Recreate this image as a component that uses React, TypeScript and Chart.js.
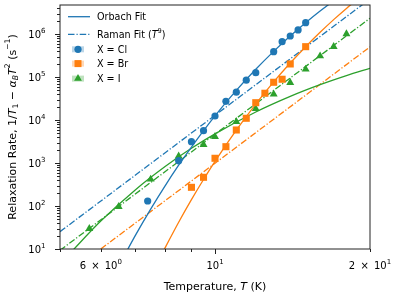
import React, { useEffect, useRef } from 'react';
import { Chart, registerables } from 'chart.js';

Chart.register(...registerables);

// ---- Data ----
const T_CL = [7.4, 8.5, 9, 9.5, 10, 10.5, 11, 11.5, 12, 13, 13.5, 14, 14.5, 15];
const R_CL = [131, 1140, 3150, 5690, 12500, 27500, 44900, 85300, 127600, 393000, 672000, 912000, 1260000, 1860000];

const T_BR = [9, 9.5, 10, 10.5, 11, 11.5, 12, 12.5, 13, 13.5, 14, 15];
const R_BR = [273, 467, 1295, 2410, 5900, 11060, 25500, 42300, 76200, 89600, 203400, 514000];

const T_I = [5.7, 6.5, 7.5, 8.5, 9.5, 10, 11, 12, 13, 14, 15, 16, 17, 18];
const R_I = [29.7, 96.6, 420, 1450, 2700, 4120, 9220, 18400, 40300, 74600, 153000, 312000, 514000, 1020000];

// Orbach fit curves
const ORB_CL_T = [6.6, 7, 7.5, 8, 8.5, 9, 10, 11, 12, 13, 14, 15, 16, 17, 18];
const ORB_CL_R = [5.6, 20.5, 85, 296, 893, 2370, 12600, 49200, 153000, 400000, 910000, 1860000, 3470000, 6000000, 9800000];
const ORB_BR_T = [7.8, 8.5, 9, 9.5, 10, 11, 12, 13, 14, 15, 16, 17, 18, 19];
const ORB_BR_R = [6.0, 42, 141, 415, 1100, 5880, 23700, 77600, 214000, 514000, 1110000, 2190000, 4000000, 6800000];
const ORB_I_T = [5.2, 6, 7, 8, 9, 10, 12, 14, 16, 18, 20];
const ORB_I_R = [7.4, 44.7, 238, 833, 2210, 4800, 15500, 35800, 67000, 109000, 161000];

// Raman fit lines (T^9, straight on log-log): endpoints
const RAM_CL_T = [5, 20];
const RAM_CL_R = [25.3, 6630000];
const RAM_BR_T = [6, 20];
const RAM_BR_R = [10, 508000];
const RAM_I_T = [5, 20];
const RAM_I_R = [9.3, 2360000];

// Axis ticks
const X_TICK_VALUES = [6, 10, 20];
const X_TICK_MANT = ['6 \u2009×\u2009 10', '10', '2 \u2009×\u2009 10'];
const X_TICK_EXP = ['0', '1', '1'];
const X_MAJOR = [10];
const X_MINOR = [5, 6, 7, 8, 9, 20];
const Y_TICK_VALUES = [10, 100, 1000, 10000, 100000, 1000000];
const Y_TICK_EXP = ['1', '2', '3', '4', '5', '6'];

const BLUE = '#1f77b4';
const ORANGE = '#ff7f0e';
const GREEN = '#2ca02c';
const FONT = '"DejaVu Sans", "Liberation Sans", sans-serif';
const FS = 9.6;
const FS_TICK = 10;
const FS_TITLE = 11;
const DASHDOT = [6.5, 2, 1.2, 2];

type Seg = { t: string; i?: boolean; s?: 'sup' | 'sub' };

function segFont(seg: Seg, size: number) {
  const sz = seg.s ? size * 0.7 : size;
  return `${seg.i ? 'italic ' : ''}${sz}px ${FONT}`;
}
function richWidth(ctx: CanvasRenderingContext2D, segs: Seg[], size: number) {
  let w = 0;
  for (const s of segs) {
    ctx.font = segFont(s, size);
    w += ctx.measureText(s.t).width;
  }
  return w;
}
function drawRich(
  ctx: CanvasRenderingContext2D,
  segs: Seg[],
  x: number,
  y: number,
  size: number,
  align: 'left' | 'center' | 'right'
) {
  const w = richWidth(ctx, segs, size);
  let cx = align === 'left' ? x : align === 'center' ? x - w / 2 : x - w;
  ctx.textAlign = 'left';
  ctx.textBaseline = 'alphabetic';
  const base = y + size * 0.36;
  for (const s of segs) {
    ctx.font = segFont(s, size);
    const dy = s.s === 'sup' ? -size * 0.5 : s.s === 'sub' ? size * 0.22 : 0;
    ctx.fillText(s.t, cx, base + dy);
    cx += ctx.measureText(s.t).width;
  }
}

function pts(xs: number[], ys: number[]) {
  return xs.map((x, i) => ({ x, y: ys[i] }));
}

const overlay = {
  id: 'overlay',
  afterDraw(chart: any) {
    const ctx: CanvasRenderingContext2D = chart.ctx;
    const xs = chart.scales.x;
    const ys = chart.scales.y;
    const a = chart.chartArea;
    ctx.save();
    ctx.fillStyle = '#000';
    ctx.strokeStyle = '#222';
    ctx.lineWidth = 1;
    ctx.setLineDash([]);
    // frame
    ctx.strokeRect(a.left, a.top, a.right - a.left, a.bottom - a.top);
    // x ticks
    ctx.beginPath();
    for (const v of X_MAJOR) {
      const px = Math.round(xs.getPixelForValue(v)) + 0.5;
      ctx.moveTo(px, a.bottom);
      ctx.lineTo(px, a.bottom + 5);
    }
    for (const v of X_MINOR) {
      const px = Math.round(xs.getPixelForValue(v)) + 0.5;
      ctx.moveTo(px, a.bottom);
      ctx.lineTo(px, a.bottom + 3);
    }
    // y ticks
    for (let e = 1; e <= 6; e++) {
      for (let m = 1; m <= 9; m++) {
        const v = m * Math.pow(10, e);
        if (v < ys.min || v > ys.max) continue;
        const py = Math.round(ys.getPixelForValue(v)) + 0.5;
        ctx.moveTo(a.left, py);
        ctx.lineTo(a.left - (m === 1 ? 5 : 3), py);
      }
    }
    ctx.stroke();
    // x tick labels
    X_TICK_VALUES.forEach((v, i) => {
      const px = xs.getPixelForValue(v);
      drawRich(ctx, [{ t: X_TICK_MANT[i] }, { t: X_TICK_EXP[i], s: 'sup' }], px, 265, FS_TICK, 'center');
    });
    // y tick labels
    Y_TICK_VALUES.forEach((v, i) => {
      const py = ys.getPixelForValue(v);
      drawRich(ctx, [{ t: '10' }, { t: Y_TICK_EXP[i], s: 'sup' }], 45.5, py, FS_TICK, 'right');
    });
    // x title
    drawRich(
      ctx,
      [{ t: 'Temperature, ' }, { t: 'T', i: true }, { t: ' (K)' }],
      (a.left + a.right) / 2,
      286,
      FS_TITLE,
      'center'
    );
    // y title
    ctx.save();
    ctx.translate(12, (a.top + a.bottom) / 2);
    ctx.rotate(-Math.PI / 2);
    drawRich(
      ctx,
      [
        { t: 'Relaxation Rate, 1/' },
        { t: 'T', i: true },
        { t: '1', s: 'sub' },
        { t: ' − ' },
        { t: 'α', i: true },
        { t: 'B', i: true, s: 'sub' },
        { t: 'T', i: true },
        { t: '2', s: 'sup' },
        { t: ' (s' },
        { t: '−1', s: 'sup' },
        { t: ')' },
      ],
      0,
      0,
      FS_TITLE,
      'center'
    );
    ctx.restore();

    // legend
    const lx0 = 68, lx1 = 90, tx = 97;
    ctx.strokeStyle = BLUE;
    ctx.lineWidth = 1.3;
    ctx.beginPath();
    ctx.moveTo(lx0, 16.7);
    ctx.lineTo(lx1, 16.7);
    ctx.stroke();
    ctx.setLineDash(DASHDOT);
    ctx.beginPath();
    ctx.moveTo(lx0, 34.3);
    ctx.lineTo(lx1, 34.3);
    ctx.stroke();
    ctx.setLineDash([]);
    ctx.fillStyle = '#000';
    drawRich(ctx, [{ t: 'Orbach Fit' }], tx, 16.7, FS, 'left');
    drawRich(ctx, [{ t: 'Raman Fit (' }, { t: 'T', i: true }, { t: '9', s: 'sup' }, { t: ')' }], tx, 34.3, FS, 'left');

    const mk = [
      { y: 49.3, c: BLUE, shape: 'circle', label: 'X = Cl' },
      { y: 63.6, c: ORANGE, shape: 'rect', label: 'X = Br' },
      { y: 78.6, c: GREEN, shape: 'tri', label: 'X = I' },
    ];
    const mx = 78;
    for (const m of mk) {
      ctx.globalAlpha = 0.3;
      ctx.fillStyle = m.c;
      ctx.fillRect(mx - 6, m.y - 3, 12, 6);
      ctx.globalAlpha = 1;
      ctx.beginPath();
      if (m.shape === 'circle') {
        ctx.arc(mx, m.y, 3.6, 0, Math.PI * 2);
      } else if (m.shape === 'rect') {
        ctx.rect(mx - 3.5, m.y - 3.5, 7, 7);
      } else {
        ctx.moveTo(mx, m.y - 4.5);
        ctx.lineTo(mx + 3.9, m.y + 2.25);
        ctx.lineTo(mx - 3.9, m.y + 2.25);
        ctx.closePath();
      }
      ctx.fill();
      ctx.fillStyle = '#000';
      drawRich(ctx, [{ t: m.label }], tx, m.y, FS, 'left');
    }
    ctx.restore();
  },
};

export default function App() {
  const ref = useRef<HTMLCanvasElement | null>(null);
  useEffect(() => {
    document.body.style.margin = '0';
    const canvas = ref.current!;
    const scatter = (label: string, xs: number[], ys: number[], color: string, style: any, r: number) => ({
      label,
      data: pts(xs, ys),
      showLine: false,
      pointStyle: style,
      pointRadius: r,
      pointBackgroundColor: color,
      pointBorderColor: color,
      pointBorderWidth: 0,
      borderColor: color,
      backgroundColor: color,
    });
    const curve = (label: string, xs: number[], ys: number[], color: string, dash: number[], smooth: boolean) => ({
      label,
      data: pts(xs, ys),
      borderColor: color,
      backgroundColor: color,
      borderWidth: 1.3,
      borderDash: dash,
      pointRadius: 0,
      fill: false,
      cubicInterpolationMode: smooth ? 'monotone' : 'default',
      tension: 0,
    });
    const chart = new Chart(canvas, {
      type: 'line',
      data: {
        datasets: [
          scatter('X = Cl', T_CL, R_CL, BLUE, 'circle', 3.6),
          scatter('X = Br', T_BR, R_BR, ORANGE, 'rect', 5),
          scatter('X = I', T_I, R_I, GREEN, 'triangle', 4.6),
          curve('Orbach Cl', ORB_CL_T, ORB_CL_R, BLUE, [], true),
          curve('Orbach Br', ORB_BR_T, ORB_BR_R, ORANGE, [], true),
          curve('Orbach I', ORB_I_T, ORB_I_R, GREEN, [], true),
          curve('Raman Cl', RAM_CL_T, RAM_CL_R, BLUE, DASHDOT, false),
          curve('Raman Br', RAM_BR_T, RAM_BR_R, ORANGE, DASHDOT, false),
          curve('Raman I', RAM_I_T, RAM_I_R, GREEN, DASHDOT, false),
        ] as any,
      },
      options: {
        animation: false,
        responsive: false,
        maintainAspectRatio: false,
        layout: { padding: { top: 5, right: 26, left: 0, bottom: 0 } },
        plugins: { legend: { display: false }, tooltip: { enabled: false } },
        scales: {
          x: {
            type: 'logarithmic',
            min: 5,
            max: 20,
            grid: { display: false },
            border: { display: false },
            ticks: { display: false },
            afterFit: (s: any) => {
              s.height = 51;
            },
          },
          y: {
            type: 'logarithmic',
            min: 10,
            max: 4.8e6,
            grid: { display: false },
            border: { display: false },
            ticks: { display: false },
            afterFit: (s: any) => {
              s.width = 60;
            },
          },
        },
      } as any,
      plugins: [overlay],
    });
    return () => chart.destroy();
  }, []);
  return <canvas ref={ref} width={396} height={300} style={{ display: 'block' }} />;
}
